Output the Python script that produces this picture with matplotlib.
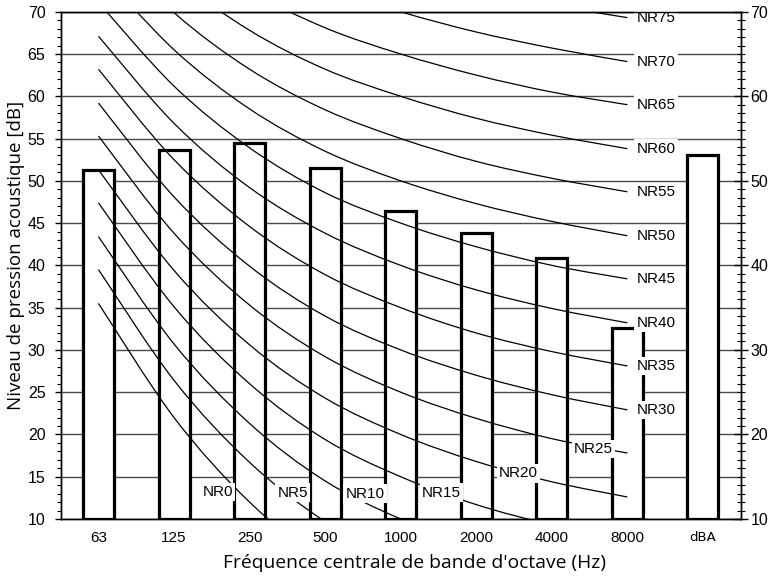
import matplotlib
matplotlib.use("Agg")
import matplotlib.pyplot as plt
import numpy as np
from matplotlib.path import Path
from matplotlib.patches import PathPatch
from matplotlib.ticker import MultipleLocator

plt.rcParams['font.family'] = ['Liberation Sans', 'DejaVu Sans']

# measured octave band levels + overall dBA
bands = ['63', '125', '250', '500', '1000', '2000', '4000', '8000', 'dBA']
levels = [51.3, 53.6, 54.5, 51.5, 46.4, 43.8, 40.85, 32.6, 53.1]

# NR curves, values at 63 ... 8000 Hz
nr_names = ['NR0', 'NR5', 'NR10', 'NR15', 'NR20', 'NR25', 'NR30', 'NR35',
            'NR40', 'NR45', 'NR50', 'NR55', 'NR60', 'NR65', 'NR70', 'NR75']
nr0 = [35.5, 22.0, 12.0, 4.8, 0.0, -3.5, -6.1, -8.0]
nr5 = [39.5, 26.4, 16.7, 9.7, 5.0, 1.6, -1.0, -2.9]
nr10 = [43.4, 30.7, 21.3, 14.5, 10.0, 6.7, 4.2, 2.3]
nr15 = [47.4, 35.1, 26.0, 19.4, 15.0, 11.7, 9.3, 7.5]
nr20 = [51.3, 39.4, 30.6, 24.3, 20.0, 16.8, 14.4, 12.6]
nr25 = [55.3, 43.8, 35.3, 29.2, 25.0, 21.9, 19.5, 17.8]
nr30 = [59.2, 48.1, 39.9, 34.0, 30.0, 27.0, 24.7, 22.9]
nr35 = [63.2, 52.5, 44.6, 38.9, 35.0, 32.0, 29.8, 28.1]
nr40 = [67.1, 56.8, 49.2, 43.8, 40.0, 37.1, 34.9, 33.2]
nr45 = [71.1, 61.2, 53.9, 48.6, 45.0, 42.2, 40.0, 38.4]
nr50 = [75.0, 65.5, 58.5, 53.5, 50.0, 47.3, 45.2, 43.5]
nr55 = [79.0, 69.9, 63.2, 58.4, 55.0, 52.3, 50.3, 48.7]
nr60 = [82.9, 74.2, 67.8, 63.2, 60.0, 57.4, 55.4, 53.8]
nr65 = [86.9, 78.6, 72.5, 68.1, 65.0, 62.5, 60.5, 59.0]
nr70 = [90.8, 82.9, 77.1, 73.0, 70.0, 67.6, 65.7, 64.1]
nr75 = [94.8, 87.3, 81.8, 77.9, 75.0, 72.6, 70.8, 69.3]
nr_curves = [nr0, nr5, nr10, nr15, nr20, nr25, nr30, nr35,
             nr40, nr45, nr50, nr55, nr60, nr65, nr70, nr75]

# label spots for the low curves (band index, dB); the others sit at the 8000 end
low_label_x = [1.58, 2.57, 3.53, 4.54, 5.56, 6.55]
low_label_y = [13.2, 13.1, 13.0, 13.1, 15.4, 18.3]


def smooth_path(xs, ys):
    """Catmull-Rom through the points, drawn as cubic bezier segments"""
    pts = np.column_stack([xs, ys]).astype(float)
    ext = np.vstack([pts[0], pts, pts[-1]])
    verts = [pts[0]]
    codes = [Path.MOVETO]
    for i in range(len(pts) - 1):
        p0, p1, p2, p3 = ext[i], ext[i + 1], ext[i + 2], ext[i + 3]
        verts += [p1 + (p2 - p0) / 6, p2 - (p3 - p1) / 6, p2]
        codes += [Path.CURVE4] * 3
    return Path(verts, codes)


fig = plt.figure(figsize=(7.71, 5.80), dpi=100)
ax = fig.add_axes([0.0787, 0.1052, 0.882, 0.8746])

x = np.arange(len(bands))
ax.set_xlim(-0.5, 8.5)
ax.set_ylim(10, 70)

ax.yaxis.set_major_locator(MultipleLocator(5))
ax.yaxis.set_minor_locator(MultipleLocator(1))
ax.grid(axis='y', which='major', color='#4a4a4a', lw=1.0)
ax.set_axisbelow(True)

ax.bar(x, np.array(levels) - 10, bottom=10, width=0.41, facecolor='white',
       edgecolor='black', linewidth=2.3, zorder=2)

for vals in nr_curves:
    ax.add_patch(PathPatch(smooth_path(x[:8], vals), fill=False,
                           edgecolor='black', lw=0.9, zorder=3))

box = dict(boxstyle='square,pad=0.15', facecolor='white', edgecolor='none')
for i, name in enumerate(nr_names):
    if i < len(low_label_x):
        ax.text(low_label_x[i], low_label_y[i], name, ha='center', va='center',
                fontsize=11, bbox=box, zorder=4)
    else:
        ax.text(7.12, nr_curves[i][-1], name, ha='left', va='center',
                fontsize=11, bbox=box, zorder=4)

ax.set_xticks(x, bands)
ax.tick_params(axis='x', length=0, pad=9, labelsize=11)
lab = ax.get_xticklabels()[-1]
lab.set_family(['Liberation Sans Narrow', 'DejaVu Sans'])
lab.set_fontsize(9.5)
ax.tick_params(axis='y', which='major', direction='out', length=4, width=1,
               labelsize=11.5, pad=7)
ax.tick_params(axis='y', which='minor', direction='out', length=3, width=0.8)

ax2 = ax.twinx()
ax2.set_ylim(10, 70)
ax2.yaxis.set_major_locator(MultipleLocator(10))
ax2.yaxis.set_minor_locator(MultipleLocator(1))
ax2.tick_params(axis='y', which='major', direction='inout', length=10,
                width=1, labelsize=11.5, pad=2)
ax2.tick_params(axis='y', which='minor', direction='inout', length=6, width=0.8)

for a in (ax, ax2):
    for s in a.spines.values():
        s.set_color('black')
        s.set_linewidth(1.0)

ax.set_ylabel('Niveau de pression acoustique [dB]', fontsize=13.5,
              family=['Open Sans', 'DejaVu Sans'], labelpad=2)
ax.yaxis.label.set_y(0.52)
ax.set_xlabel("Fréquence centrale de bande d'octave (Hz)", fontsize=13.9,
              family=['Open Sans', 'DejaVu Sans'], labelpad=6)
ax.xaxis.label.set_x(0.521)

fig.savefig('out.png', dpi=100)
